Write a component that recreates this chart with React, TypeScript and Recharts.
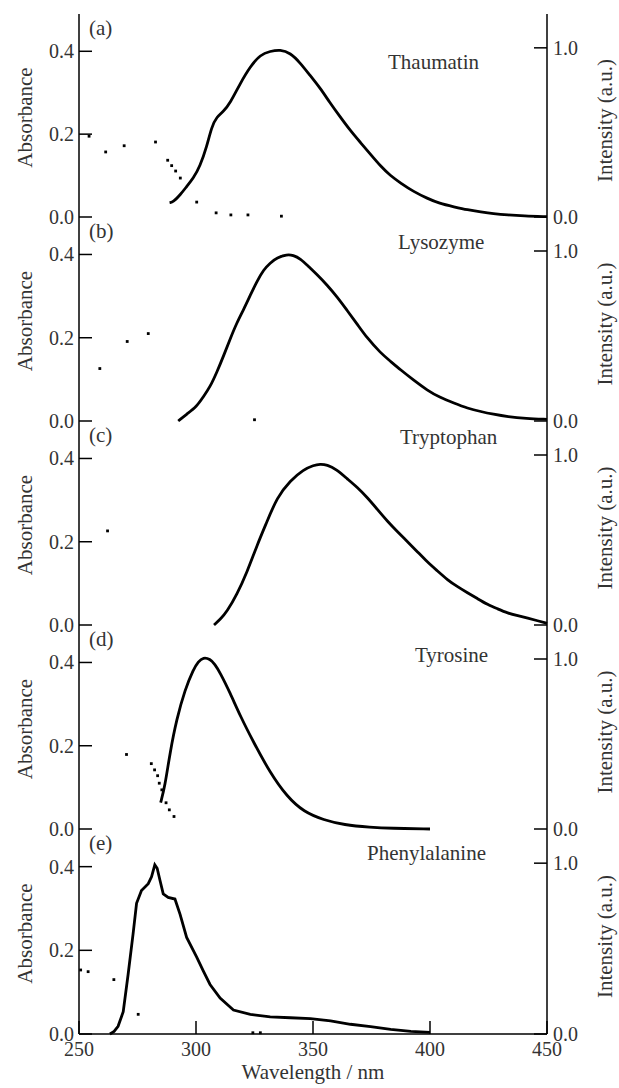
// Absorbance (dots) and normalised fluorescence (line) for five samples
import { ComposedChart, Line, Scatter, XAxis, YAxis } from 'recharts';

const X_TICKS = [250, 300, 350, 400, 450];
const ABS_TICKS = [0, 0.2, 0.4];
const INT_TICKS = [0, 1.0];

// (a) Thaumatin
const thaumatinAbsWl = [254.3, 261.4, 269.3, 282.7, 287.9, 289.6, 291.3, 293.3, 300.3, 308.6, 314.9, 322.2, 336.5];
const thaumatinAbs = [0.195, 0.157, 0.172, 0.181, 0.137, 0.124, 0.111, 0.094, 0.036, 0.01, 0.005, 0.005, 0.002];
const thaumatinFlWl = [288.7, 290.3, 293.2, 296, 298.9, 301.7, 304.6, 306.7, 308.9, 311.7, 314.6, 318.9, 323.2, 327.5, 331.7, 336, 340.3, 344.6, 348, 353.2, 357, 361.7, 366, 370.3, 374.6, 378.9, 383, 387.5, 393, 398.9, 404, 410.3, 416, 421.8, 427, 433.2, 440, 450];
const thaumatinFl = [0.085, 0.089, 0.13, 0.18, 0.23, 0.3, 0.416, 0.534, 0.593, 0.623, 0.673, 0.79, 0.89, 0.96, 0.98, 0.99, 0.97, 0.91, 0.85, 0.76, 0.68, 0.59, 0.51, 0.44, 0.37, 0.3, 0.245, 0.2, 0.15, 0.11, 0.08, 0.06, 0.042, 0.03, 0.02, 0.012, 0.006, 0.002];

// (b) Lysozyme
const lysozymeAbsWl = [258.9, 270.6, 279.6, 325];
const lysozymeAbs = [0.126, 0.191, 0.21, 0.003];
const lysozymeFlWl = [292.4, 296, 300.3, 303, 306, 309, 311.7, 314.5, 317.5, 320.5, 323.2, 326, 328.9, 331.7, 334.6, 338.9, 341.5, 344.6, 348, 351.8, 356, 360.3, 364.6, 368.9, 373, 378.9, 383.2, 387.5, 393, 398.9, 404, 410.3, 416, 421.8, 427, 433.2, 441, 450];
const lysozymeFl = [0, 0.04, 0.085, 0.14, 0.2, 0.29, 0.38, 0.48, 0.58, 0.66, 0.74, 0.82, 0.89, 0.93, 0.96, 0.98, 0.975, 0.955, 0.91, 0.86, 0.8, 0.73, 0.65, 0.57, 0.49, 0.4, 0.35, 0.3, 0.24, 0.18, 0.14, 0.105, 0.075, 0.055, 0.04, 0.025, 0.015, 0.01];

// (c) Tryptophan
const tryptophanAbsWl = [262.2];
const tryptophanAbs = [0.226];
const tryptophanFlWl = [307.7, 310.5, 313.2, 317.5, 321.8, 326.1, 330.4, 334.6, 340.3, 346, 350.3, 353, 356, 360, 364.6, 368.9, 373.2, 377.5, 381.8, 386, 390.4, 394.7, 398.9, 403, 407.5, 411.8, 416, 420.3, 424.6, 428.9, 433.2, 437.5, 441.8, 446, 450];
const tryptophanFl = [0, 0.035, 0.078, 0.18, 0.31, 0.47, 0.61, 0.75, 0.85, 0.915, 0.94, 0.947, 0.943, 0.915, 0.86, 0.81, 0.75, 0.68, 0.61, 0.55, 0.49, 0.43, 0.37, 0.32, 0.265, 0.225, 0.19, 0.155, 0.12, 0.095, 0.07, 0.055, 0.04, 0.025, 0.01];

// (d) Tyrosine
const tyrosineAbsWl = [270.3, 280.9, 282.3, 283.6, 284.3, 285.4, 287.2, 288.6, 290.6];
const tyrosineAbs = [0.179, 0.157, 0.142, 0.128, 0.11, 0.094, 0.063, 0.046, 0.03];
const tyrosineFlWl = [284.9, 286.7, 288.9, 291.7, 295.3, 298.9, 301, 303.1, 306, 308, 310.3, 314.6, 318.9, 324.6, 331.7, 338.9, 346.1, 354.6, 363.2, 374.6, 383.2, 400];
const tyrosineFl = [0.155, 0.25, 0.45, 0.645, 0.82, 0.94, 0.985, 1.01, 1.0, 0.97, 0.92, 0.8, 0.665, 0.51, 0.33, 0.19, 0.1, 0.053, 0.024, 0.01, 0.004, 0];

// (e) Phenylalanine
const pheAbsWl = [250.7, 253.9, 264.9, 275.3, 324.3, 327.5];
const pheAbs = [0.153, 0.149, 0.13, 0.047, 0.003, 0.003];
const pheFlWl = [263.2, 265, 266.7, 268.9, 271, 273.1, 274.6, 276.7, 279.6, 281, 282.4, 283.4, 284.6, 286, 288.1, 291, 293.2, 296, 300.3, 303.1, 306, 310.3, 316, 323.2, 331.7, 340.3, 348.9, 357.5, 366, 374.6, 383.2, 391.8, 400];
const pheFl = [0, 0.015, 0.045, 0.13, 0.35, 0.585, 0.765, 0.84, 0.88, 0.92, 0.99, 0.97, 0.9, 0.82, 0.8, 0.79, 0.7, 0.565, 0.45, 0.37, 0.29, 0.21, 0.14, 0.115, 0.1, 0.095, 0.09, 0.077, 0.057, 0.043, 0.027, 0.015, 0.01];

const letters = ['(a)', '(b)', '(c)', '(d)', '(e)'];
const names = ['Thaumatin', 'Lysozyme', 'Tryptophan', 'Tyrosine', 'Phenylalanine'];

const toPoints = (wl: number[], vals: number[], key: string) =>
  wl.map((w, i) => ({ wl: w, [key]: vals[i] }));

const panels = [
  { abs: toPoints(thaumatinAbsWl, thaumatinAbs, 'abs'), fl: toPoints(thaumatinFlWl, thaumatinFl, 'fl'), curve: 'basis' },
  { abs: toPoints(lysozymeAbsWl, lysozymeAbs, 'abs'), fl: toPoints(lysozymeFlWl, lysozymeFl, 'fl'), curve: 'basis' },
  { abs: toPoints(tryptophanAbsWl, tryptophanAbs, 'abs'), fl: toPoints(tryptophanFlWl, tryptophanFl, 'fl'), curve: 'basis' },
  { abs: toPoints(tyrosineAbsWl, tyrosineAbs, 'abs'), fl: toPoints(tyrosineFlWl, tyrosineFl, 'fl'), curve: 'basis' },
  { abs: toPoints(pheAbsWl, pheAbs, 'abs'), fl: toPoints(pheFlWl, pheFl, 'fl'), curve: 'linear' },
];

// layout (px)
const W = 619;
const LEFT_W = 79;
const RIGHT_W = 72;
const PANEL_TOPS = [14, 217, 421, 625, 829];
const PANEL_H = [203, 204, 204, 204, 205];
const NAME_POS = [
  [388, 69],
  [398, 249],
  [400, 444],
  [415, 662],
  [367, 860],
];
const TICK_LEN = 13;
const FONT = "'Liberation Serif', 'DejaVu Serif', serif";
const TEXT = '#333';
const AXIS = { stroke: '#000', strokeWidth: 1.5 };
const txt = { fontFamily: FONT };

const fmt = (v: number) => v.toFixed(1);

function LeftTick({ x, y, payload }: any) {
  return (
    <g>
      <line x1={x} x2={x + TICK_LEN} y1={y} y2={y} stroke="#000" strokeWidth={1.5} />
      <text x={x - 5} y={y} dy="0.35em" textAnchor="end" fontSize={20} style={txt} fill={TEXT}>
        {fmt(payload.value)}
      </text>
    </g>
  );
}

function RightTick({ x, y, payload }: any) {
  return (
    <g>
      <line x1={x} x2={x - TICK_LEN} y1={y} y2={y} stroke="#000" strokeWidth={1.5} />
      <text x={x + 6} y={y} dy="0.35em" textAnchor="start" fontSize={20} style={txt} fill={TEXT}>
        {fmt(payload.value)}
      </text>
    </g>
  );
}

const bottomTick = (showLabel: boolean) =>
  function BottomTick({ x, y, payload }: any) {
    return (
      <g>
        <line x1={x} x2={x} y1={y} y2={y - TICK_LEN} stroke="#000" strokeWidth={1.5} />
        {showLabel && (
          <text x={x} y={y + 22} textAnchor="middle" fontSize={20} style={txt} fill={TEXT}>
            {payload.value}
          </text>
        )}
      </g>
    );
  };

function TopTick({ x, y }: any) {
  return <line x1={x} x2={x} y1={y} y2={y + TICK_LEN} stroke="#000" strokeWidth={1.5} />;
}

function AbsDot({ cx, cy }: any) {
  return <rect x={cx - 1.4} y={cy - 1.4} width={2.8} height={2.8} fill="#000" />;
}

function Panel({ index }: { index: number }) {
  const p = panels[index];
  const last = index === panels.length - 1;
  const h = PANEL_H[index];
  const mt = 12;
  const mb = last ? 0 : 12;
  const xH = last ? 60 : 0;
  return (
    <div style={{ position: 'absolute', left: 0, top: PANEL_TOPS[index] - mt }}>
      <ComposedChart width={W} height={h + mt + mb + xH} margin={{ top: mt, right: 0, bottom: mb, left: 0 }}>
        <XAxis
          xAxisId="b"
          dataKey="wl"
          type="number"
          domain={[250, 450]}
          ticks={X_TICKS}
          interval={0}
          height={xH}
          tickSize={0}
          tickMargin={0}
          tickLine={false}
          axisLine={AXIS}
          tick={bottomTick(last)}
        />
        <XAxis
          xAxisId="t"
          orientation="top"
          dataKey="wl"
          type="number"
          domain={[250, 450]}
          ticks={X_TICKS}
          interval={0}
          height={0}
          tickSize={0}
          tickMargin={0}
          tickLine={false}
          axisLine={AXIS}
          tick={TopTick}
        />
        <YAxis
          yAxisId="abs"
          orientation="left"
          type="number"
          width={LEFT_W}
          domain={[0, 0.49]}
          ticks={ABS_TICKS}
          interval={0}
          tickSize={0}
          tickMargin={0}
          tickLine={false}
          axisLine={AXIS}
          tick={LeftTick}
        />
        <YAxis
          yAxisId="int"
          orientation="right"
          type="number"
          width={RIGHT_W}
          domain={[0, 1.2]}
          ticks={INT_TICKS}
          interval={0}
          tickSize={0}
          tickMargin={0}
          tickLine={false}
          axisLine={AXIS}
          tick={RightTick}
        />
        <Scatter
          xAxisId="b"
          yAxisId="abs"
          data={p.abs}
          dataKey="abs"
          shape={AbsDot}
          isAnimationActive={false}
        />
        <Line
          xAxisId="b"
          yAxisId="int"
          data={p.fl}
          dataKey="fl"
          type={p.curve as any}
          stroke="#000"
          strokeWidth={2.8}
          dot={false}
          activeDot={false}
          isAnimationActive={false}
        />
      </ComposedChart>
    </div>
  );
}

export default function App() {
  return (
    <div style={{ position: 'absolute', left: 0, top: 0, width: W, height: 1088, background: '#fff' }}>
      {panels.map((_, i) => (
        <Panel key={i} index={i} />
      ))}
      <svg
        width={W}
        height={1088}
        style={{ position: 'absolute', left: 0, top: 0, pointerEvents: 'none', fontFamily: FONT }}
        fill={TEXT}
      >
        {panels.map((_, i) => {
          const top = PANEL_TOPS[i];
          const mid = top + PANEL_H[i] / 2;
          return (
            <g key={i}>
              <text x={89} y={top + 21} fontSize={21} style={txt}>
                {letters[i]}
              </text>
              <text x={NAME_POS[i][0]} y={NAME_POS[i][1]} fontSize={21} style={txt}>
                {names[i]}
              </text>
              <text x={32} y={mid + 2} fontSize={21} style={txt} textAnchor="middle" transform={`rotate(-90 32 ${mid + 2})`}>
                Absorbance
              </text>
              <text x={612} y={mid + 5} fontSize={21} style={txt} textAnchor="middle" transform={`rotate(-90 612 ${mid + 5})`}>
                Intensity (a.u.)
              </text>
            </g>
          );
        })}
        <text x={313} y={1079} fontSize={21} style={txt} textAnchor="middle">
          Wavelength / nm
        </text>
      </svg>
    </div>
  );
}
